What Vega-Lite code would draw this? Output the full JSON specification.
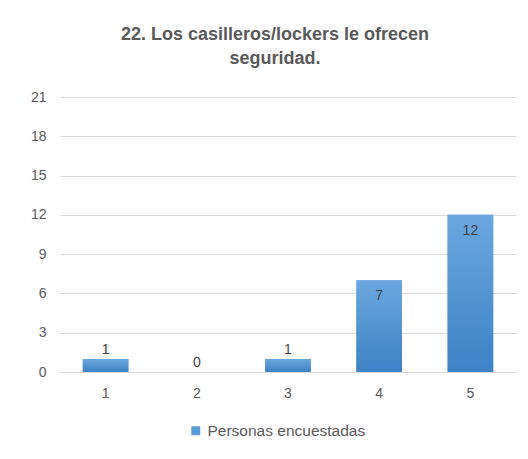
{
  "$schema": "https://vega.github.io/schema/vega-lite/v6.json",
  "width": 456,
  "height": 275,
  "autosize": {"type": "none"},
  "padding": {"left": 60, "top": 97, "right": 12, "bottom": 87},
  "background": "white",
  "title": {
    "text": ["22. Los casilleros/lockers le ofrecen", "seguridad."],
    "font": "Liberation Sans",
    "fontSize": 18,
    "fontWeight": "bold",
    "color": "#595959",
    "lineHeight": 24,
    "offset": 22,
    "dx": -13
  },
  "data": {
    "values": [
      {"cat": "1", "value": 1, "serie": "Personas encuestadas"},
      {"cat": "2", "value": 0, "serie": "Personas encuestadas"},
      {"cat": "3", "value": 1, "serie": "Personas encuestadas"},
      {"cat": "4", "value": 7, "serie": "Personas encuestadas"},
      {"cat": "5", "value": 12, "serie": "Personas encuestadas"}
    ]
  },
  "encoding": {
    "x": {
      "field": "cat", "type": "nominal", "title": null,
      "scale": {"paddingInner": 0.5, "paddingOuter": 0.25},
      "axis": {"labelAngle": 0, "ticks": false, "domainColor": "#D9D9D9", "labelPadding": 14, "labelFontSize": 14, "labelColor": "#595959", "labelFont": "Liberation Sans"}
    },
    "y": {
      "field": "value", "type": "quantitative", "title": null,
      "scale": {"domain": [0, 21], "nice": false},
      "axis": {"values": [0, 3, 6, 9, 12, 15, 18, 21], "domain": false, "ticks": false, "gridColor": "#D9D9D9", "labelPadding": 14, "labelFontSize": 14, "labelColor": "#595959", "labelFont": "Liberation Sans"}
    }
  },
  "layer": [
    {
      "mark": {"type": "bar"},
      "encoding": {
        "color": {
          "field": "serie", "type": "nominal", "title": null,
          "scale": {"range": ["#5B9BD5"]},
          "legend": {"orient": "none", "legendX": 128, "legendY": 326, "symbolType": "square", "symbolSize": 80, "labelFontSize": 15.5, "labelColor": "#595959", "labelFont": "Liberation Sans", "symbolStrokeWidth": 0}
        }
      }
    },
    {
      "mark": {"type": "bar", "fill": {"gradient": "linear", "x1": 0, "y1": 0, "x2": 0, "y2": 1, "stops": [{"offset": 0, "color": "#6AA7E0"}, {"offset": 1, "color": "#3D82C5"}]}}
    },
    {
      "transform": [{"filter": "datum.value < 3"}],
      "mark": {"type": "text", "baseline": "bottom", "dy": -2, "fontSize": 14, "color": "#404040", "font": "Liberation Sans"},
      "encoding": {"text": {"field": "value"}}
    },
    {
      "transform": [{"filter": "datum.value >= 3"}],
      "mark": {"type": "text", "baseline": "top", "dy": 9, "fontSize": 14, "color": "#404040", "font": "Liberation Sans"},
      "encoding": {"text": {"field": "value"}}
    }
  ],
  "config": {"view": {"stroke": null}}
}
